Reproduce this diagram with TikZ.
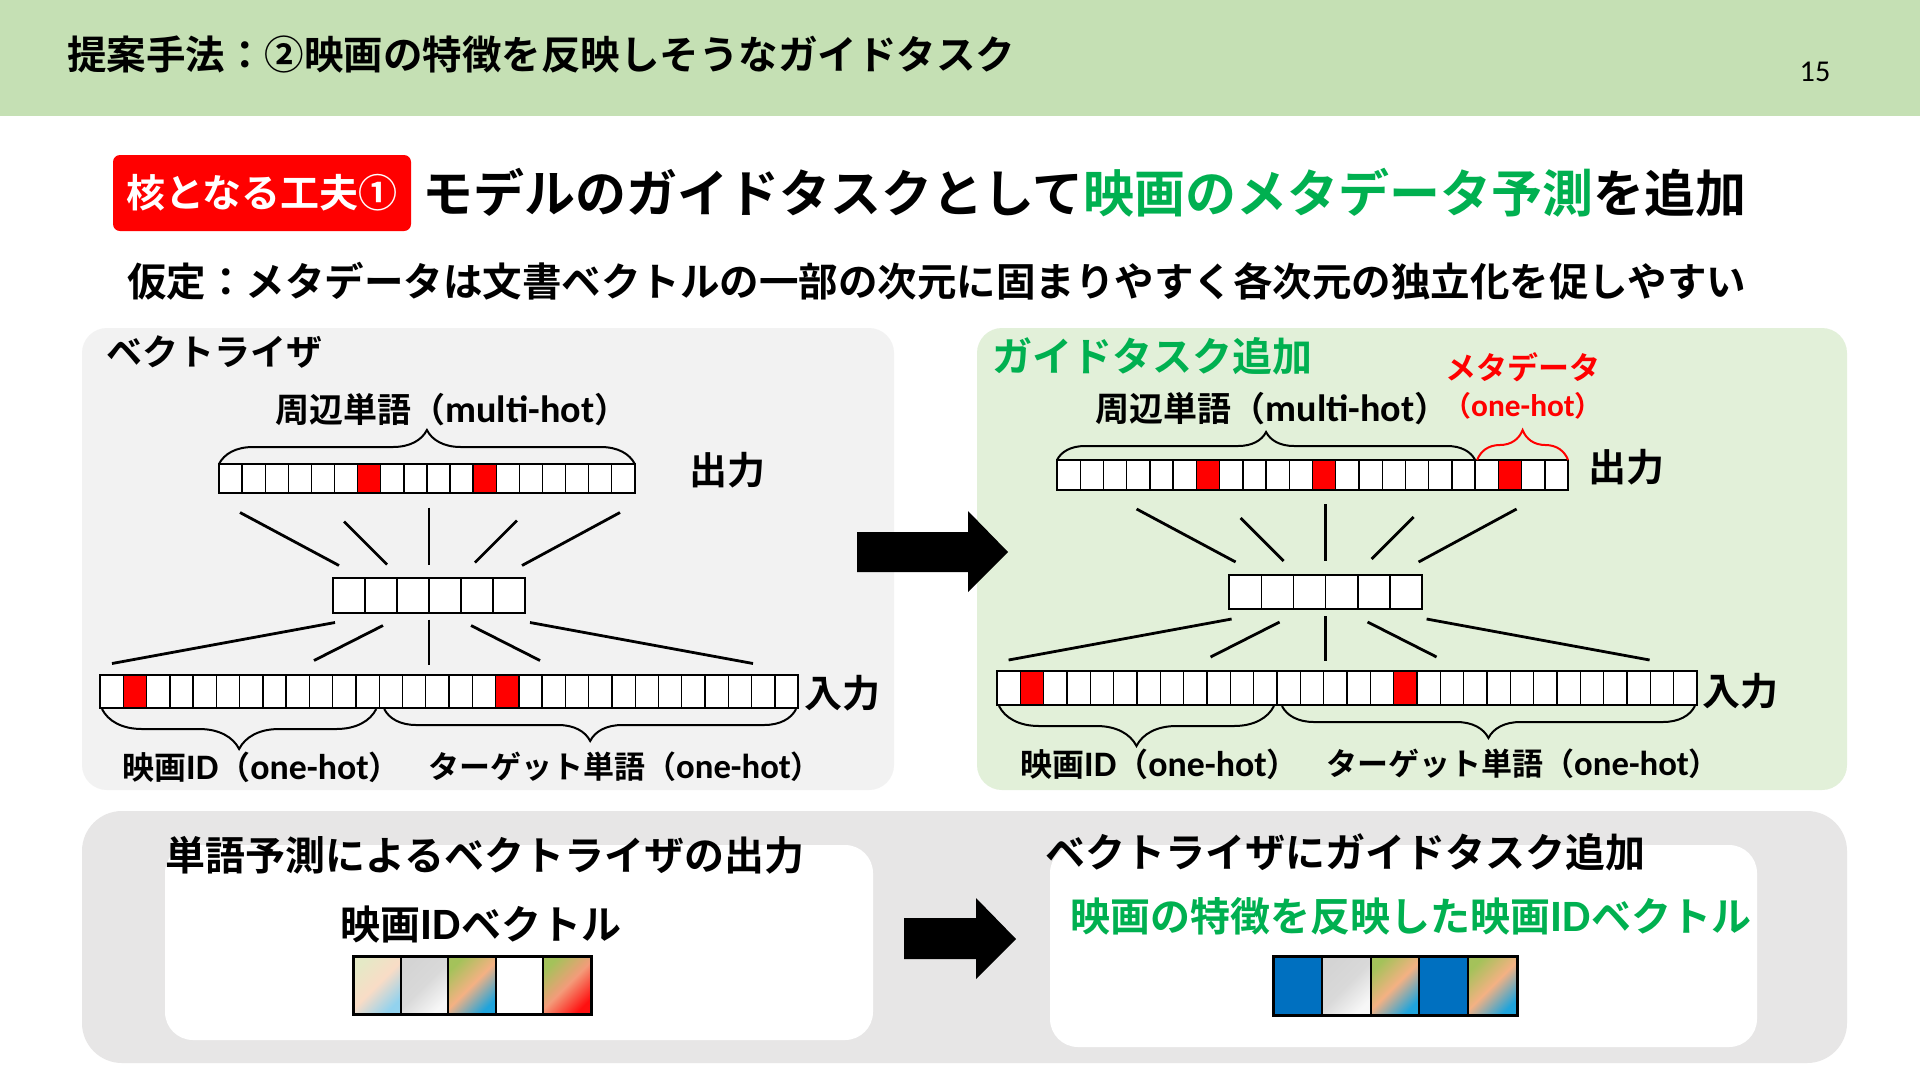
\documentclass[tikz,border=0pt]{standalone}
\usepackage{fontspec}
\setmainfont{Noto Sans CJK JP}[BoldFont={* Bold}]
\newfontfamily\latn{Carlito}[Scale=1.12]
\usetikzlibrary{positioning, calc, decorations.pathreplacing}

\definecolor{hdrgreen}{HTML}{C5E0B4}
\definecolor{panelgray}{HTML}{F2F2F2}
\definecolor{panelgreen}{HTML}{E2F0D9}
\definecolor{basegray}{HTML}{E7E6E6}
\definecolor{keyred}{HTML}{FF0000}
\definecolor{metagreen}{HTML}{00B050}
\definecolor{idblue}{HTML}{0070C0}
\definecolor{gcream}{HTML}{E5E9C6}
\definecolor{gpeach}{HTML}{F9DCC6}
\definecolor{gsky}{HTML}{92D2EE}
\definecolor{ggrayA}{HTML}{D4D4D4}
\definecolor{ggrayB}{HTML}{D9D9D9}
\definecolor{ggrayC}{HTML}{F7F7F7}
\definecolor{ggreen}{HTML}{A4C25A}
\definecolor{gorange}{HTML}{F4B183}
\definecolor{gblue}{HTML}{1FA4DC}
\definecolor{gsalmon}{HTML}{F39C7A}
\definecolor{gred}{HTML}{FF1010}

\newcommand{\sz}[1]{\fontsize{#1}{#1}\selectfont}

% one row of cells: name, x, y (top left), cells, cell width, height, red cells
\newcommand{\cellrow}[7]{%
  \node[vecbox, anchor=north west, minimum width=#4*#5, minimum height=#6] (#1) at (#2,#3) {};
  \if\relax\detokenize{#7}\relax\else
    \foreach \k in {#7}
      \draw[redcell] ($(#1.north west)+({(\k-1)*#5},0)$) rectangle +(#5,#6);
  \fi
  \pgfmathtruncatemacro{\lastcell}{#4-1}
  \foreach \k in {1,...,\lastcell}
    \draw[cellsep] ($(#1.north west)+({\k*#5},0)$) -- +(0,#6);
  \draw[vecline] (#1.north west) rectangle (#1.south east);
}

% five shaded cells: name, x, y (top left), cell width, height, colours
\newcommand{\colorrow}[6]{%
  \node[vecbox, anchor=north west, minimum width=5*#4, minimum height=#5] (#1) at (#2,#3) {};
  \foreach \ca/\cb/\cc [count=\k from 0] in {#6}
    \shade[top color=\ca, bottom color=\cc, middle color=\cb, shading angle=45]
      ($(#1.north west)+({\k*#4},0)$) rectangle +(#4,#5);
  \foreach \k in {1,...,4}
    \draw[cellsep, line width=2pt] ($(#1.north west)+({\k*#4},0)$) -- +(0,#5);
  \draw[vecline, line width=3pt] (#1.north west) rectangle (#1.south east);
}

\begin{document}
\begin{tikzpicture}[x=1pt, y=-1pt,
    txt/.style={inner sep=0pt, font=\bfseries\sz{#1}},
    vecbox/.style={fill=white, inner sep=0pt, outer sep=0pt},
    redcell/.style={fill=keyred, draw=black, line width=1.2pt},
    cellsep/.style={draw=black, line width=1.4pt},
    vecline/.style={draw=black, line width=2.2pt},
    fan/.style={line width=2.8pt},
    curly/.style={decorate, decoration={brace, amplitude=#1}, line width=2pt},
    panel/.style={rounded corners=25pt}]

\useasboundingbox (0,0) rectangle (1920,1080);
\fill[white] (0,0) rectangle (1920,1080);

% header
\fill[hdrgreen] (0,0) rectangle (1920,116);
\node[txt=39.5, anchor=west] (hdr) at (67,55) {提案手法：②映画の特徴を反映しそうなガイドタスク};
\node[inner sep=0pt, font=\latn\sz{27}] (pg) at (1815,72) {15};

% claim
\node[fill=keyred, rounded corners=7pt, minimum width=298, minimum height=76,
      txt=39, text=white] (core) at (262,193) {核となる工夫①};
\node[txt=51, anchor=west] (claim) at (422,193)
  {モデルのガイドタスクとして\textcolor{metagreen}{映画のメタデータ予測}を追加};
\node[txt=39.5, anchor=west] (hyp) at (127,281)
  {仮定：メタデータは文書ベクトルの一部の次元に固まりやすく各次元の独立化を促しやすい};

% panels
\fill[panelgray, panel] (82,328) rectangle (894,790);
\fill[panelgreen, panel] (977,328) rectangle (1847,790);
\fill[basegray, rounded corners=40pt] (82,811) rectangle (1847,1063);
\fill[white, rounded corners=28pt] (165,845) rectangle (873,1040);
\fill[white, rounded corners=28pt] (1050,845) rectangle (1757,1047);

% block arrows
\fill (857,532) -- (968,532) -- (968,511) -- (1008,552) -- (968,592) -- (968,572) -- (857,572) -- cycle;
\fill (904,918) -- (976,918) -- (976,898) -- (1016,939) -- (976,979) -- (976,959) -- (904,959) -- cycle;

% left: vectorizer
\node[txt=36, anchor=west] (vecL) at (106,352) {ベクトライザ};
\cellrow{outL}{219}{464}{18}{23.1}{29}{7,12}
\cellrow{hidL}{333}{578}{6}{32}{35}{}
\cellrow{inL}{100}{675}{30}{23.27}{33}{2,18}
\node[txt=34] (ctxL) at (452,410) {周辺単語（{\latn multi-hot}）};
\node[txt=38] (yL) at (727,470) {出力};
\node[txt=38] (xL) at (842,693) {入力};
\draw[curly=34pt] (outL.north west) -- (outL.north east);
\draw[curly=40pt] ($(inL.south west)+(12*23.27-3,1)$) -- ($(inL.south west)+(2,1)$);
\draw[curly=32pt] ($(inL.south east)+(-2,1)$) -- ($(inL.south west)+(12*23.27+5,1)$);
\foreach \a/\b/\c/\d in {-189/-83/-90/-30, -85/-74/-42/-31, 0/-88/0/-31, 88/-75/46/-33, 191/-83/93/-30,
                         -94/27/-317/68, -46/30/-115/65, 0/24/0/69, 42/30/111/65, 101/27/324/68}
  \draw[fan] ($(hidL)+(\a,\b)$) -- ($(hidL)+(\c,\d)$);
\node[txt=32, anchor=west] (idL) at (122,767) {映画{\latn ID}（{\latn one-hot}）};
\node[txt=31, anchor=west] (tgtL) at (428,767) {ターゲット単語（{\latn one-hot}）};

% right: vectorizer with guide task
\node[txt=40, anchor=west, text=metagreen] (vecR) at (992,356) {ガイドタスク追加};
\node[txt=31, text=keyred] (metaR) at (1523,367) {メタデータ};
\node[txt=28, text=keyred] (ohR) at (1523,406) {（{\latn one-hot}）};
\cellrow{outR}{1057}{460}{22}{23.23}{30}{7,12,20}
\cellrow{hidR}{1229}{575}{6}{32.2}{34}{}
\cellrow{inR}{997}{671}{30}{23.33}{34}{2,18}
\node[txt=34] (ctxR) at (1272,409) {周辺単語（{\latn multi-hot}）};
\node[txt=38] (yR) at (1626,467) {出力};
\node[txt=38] (xR) at (1740,691) {入力};
\draw[curly=28pt] (outR.north west) -- ($(outR.north west)+(18*23.23,0)$);
\draw[curly=30pt, keyred] ($(outR.north west)+(18*23.23+2,0)$) -- (outR.north east);
\draw[curly=40pt] ($(inR.south west)+(12*23.33-3,1)$) -- ($(inR.south west)+(2,1)$);
\draw[curly=32pt] ($(inR.south east)+(-2,1)$) -- ($(inR.south west)+(12*23.33+5,1)$);
\foreach \a/\b/\c/\d in {-189/-83/-90/-30, -85/-74/-42/-31, 0/-88/0/-31, 88/-75/46/-33, 191/-83/93/-30,
                         -94/27/-317/68, -46/30/-115/65, 0/24/0/69, 42/30/111/65, 101/27/324/68}
  \draw[fan] ($(hidR)+(\a,\b)$) -- ($(hidR)+(\c,\d)$);
\node[txt=32, anchor=west] (idR) at (1020,764) {映画{\latn ID}（{\latn one-hot}）};
\node[txt=31, anchor=west] (tgtR) at (1326,764) {ターゲット単語（{\latn one-hot}）};

% bottom: resulting ID vectors
\node[txt=40, anchor=west] (plainT) at (165,855) {単語予測によるベクトライザの出力};
\node[txt=40, anchor=west] (guideT) at (1045,852) {ベクトライザにガイドタスク追加};
\node[txt=40] (idvecA) at (481,925) {映画{\latn ID}ベクトル};
\node[txt=40, text=metagreen] (idvecB) at (1411,916) {映画の特徴を反映した映画{\latn ID}ベクトル};
\colorrow{rowA}{353}{956}{47.6}{58}{gcream/gpeach/gsky, ggrayA/ggrayB/ggrayC, ggreen/gorange/gblue,
                                   white/white/white, ggreen/gsalmon/gred}
\colorrow{rowB}{1273}{956}{48.8}{59}{idblue/idblue/idblue, ggrayA/ggrayB/ggrayC, ggreen/gorange/gblue,
                                    idblue/idblue/idblue, ggreen/gorange/gblue}
\end{tikzpicture}
\end{document}
